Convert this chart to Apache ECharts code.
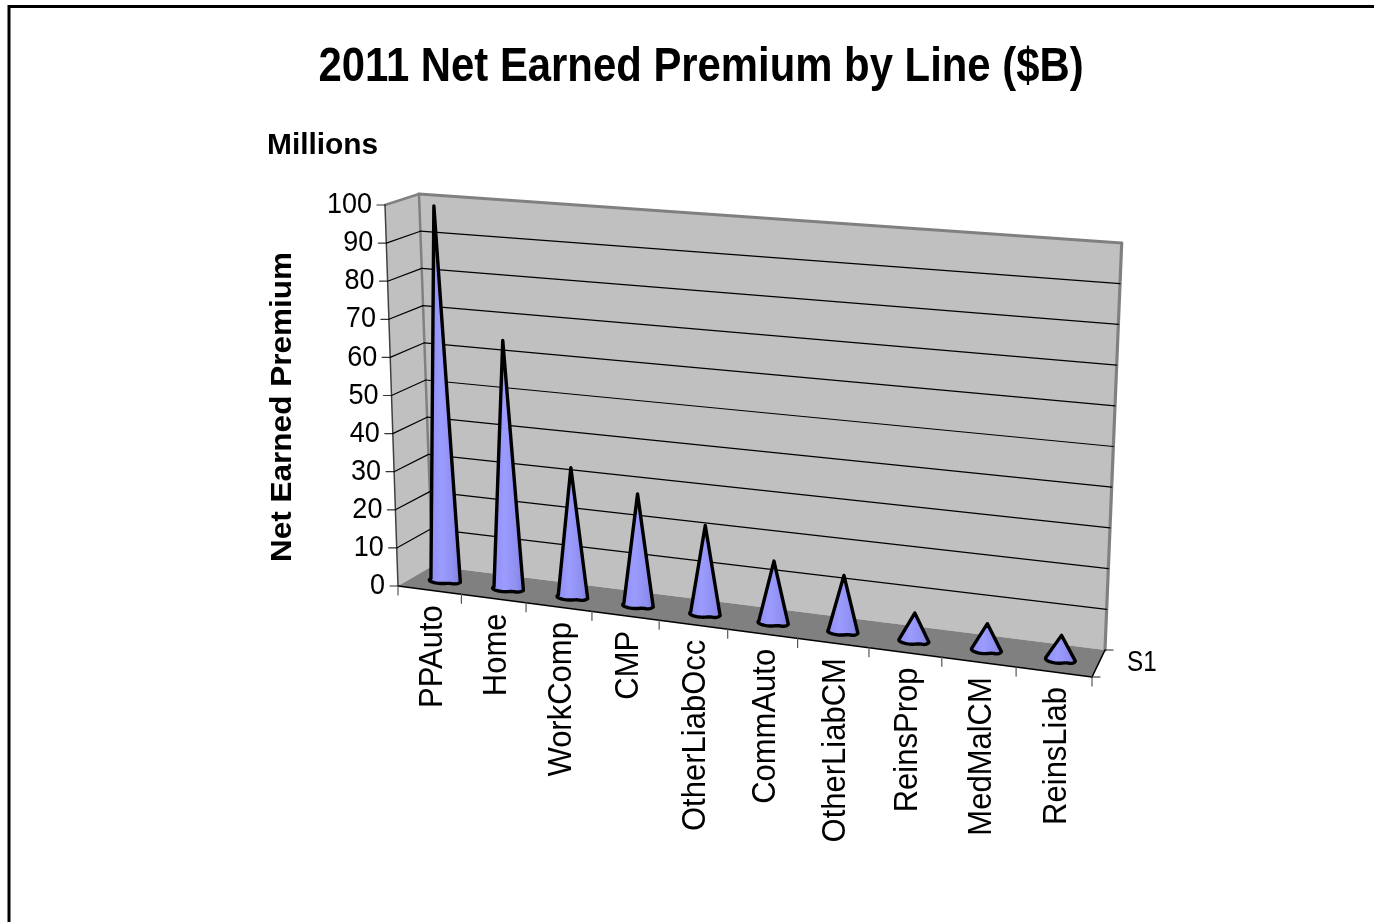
<!DOCTYPE html>
<html><head><meta charset="utf-8">
<style>html,body{margin:0;padding:0;background:#fff}#c{width:1374px;height:922px}</style>
<script src="https://cdn.jsdelivr.net/npm/echarts@6/dist/echarts.min.js"></script>
</head><body><div id="c"></div>
<script>
const categories = ['PPAuto','Home','WorkComp','CMP','OtherLiabOcc','CommAuto','OtherLiabCM','ReinsProp','MedMalCM','ReinsLiab'];
const premium = [99, 65, 33.5, 28.6, 22.5, 15.5, 14, 6.8, 6.4, 5.8];
const valueTicks = [0,10,20,30,40,50,60,70,80,90,100];
const seriesLabel = 'S1';
const FONT = '"Liberation Sans", Arial, sans-serif';

// Page box of the flat value/category plane, and the 3D box it is projected on
const G = {left:398, top:205, width:694, height:381};
const BOX = {
  fl:[398,586], fr:[1092,677], ftl:[385,205], ftr:[1108,258],
  bl:[432.5,566], br:[1105,650], btl:[419,194], btr:[1121.7,243]
};
const WARP = 1.105;
const lerp=(a,b,t)=>[a[0]+(b[0]-a[0])*t,a[1]+(b[1]-a[1])*t];
function proj(u,w,d){
  const f=lerp(lerp(BOX.fl,BOX.fr,u),lerp(BOX.ftl,BOX.ftr,u),w);
  const b=lerp(lerp(BOX.bl,BOX.br,u),lerp(BOX.btl,BOX.btr,u),w);
  return lerp(f,b,d);
}
const warp=u=>u/(u+WARP*(1-u));
const toU=px=>(px-G.left)/G.width;
const toW=py=>(G.top+G.height-py)/G.height;
const line=(a,b,stroke,lw,z)=>({type:'line',z2:z||0,shape:{x1:a[0],y1:a[1],x2:b[0],y2:b[1]},style:{stroke,lineWidth:lw,lineCap:'round'}});
const text=(t,x,y,o)=>({type:'text',x,y,rotation:o.rot||0,scaleX:o.sx||1,scaleY:o.sy||1,z2:5,style:Object.assign({text:t,font:(o.size||27)+'px '+FONT,fill:'#000',verticalAlign:'middle',align:'right'},o.style||{})});

function renderBox(){
  const poly=(pts,fill)=>({type:'polygon',shape:{points:pts},style:{fill,stroke:null}});
  return {type:'group',children:[
    poly([BOX.ftl,BOX.fl,BOX.bl,BOX.btl],'#c0c0c0'),
    poly([BOX.btl,BOX.bl,BOX.br,BOX.btr],'#c0c0c0'),
    poly([BOX.fl,BOX.fr,BOX.br,BOX.bl],'#808080'),
    line(BOX.ftl,BOX.btl,'#808080',2.5),
    line(BOX.btl,BOX.btr,'#808080',3),
    line(BOX.btr,BOX.br,'#808080',3.2),
    line(BOX.btl,BOX.bl,'#808080',2.5),
    line(BOX.ftl,BOX.fl,'#404040',1.5),
    line(BOX.fl,BOX.fr,'#000',1.6),
    line(BOX.fr,BOX.br,'#000',1.6),
    line(BOX.fr,[BOX.fr[0]+8,BOX.fr[1]],'#222',1.2),
    line(BOX.br,[BOX.br[0]+8,BOX.br[1]],'#222',1.2),
    text(seriesLabel,1127,663,{sx:.9,sy:1.12,style:{align:'left'}})
  ]};
}
function renderValueTick(params,api){
  const v=api.value(0), w=toW(api.coord([0,v])[1]);
  const a=proj(0,w,0), b=proj(0,w,1), c=proj(1,w,1);
  const kids=[line([a[0]-8,a[1]],a,'#333',1.2),text(String(v),a[0]-13,a[1],{sy:1.1})];
  if(v>0&&v<100) kids.push(line(a,b,'#000',1.2),line(b,c,'#000',1.2));
  return {type:'group',children:kids};
}
function renderCategory(params,api){
  const i=api.value(0), c=api.coord([i,0])[0], bw=api.size([1,0])[0];
  const edge=warp(toU(c-bw/2)), end=warp(toU(c+bw/2)), mid=(edge+end)/2;
  const p=proj(edge,0,0), m=proj(mid,0,0), kids=[line(p,[p[0],p[1]+9],'#555',1.2)];
  if(i===categories.length-1){const q=proj(end,0,0);kids.push(line(q,[q[0],q[1]+9],'#555',1.2));}
  kids.push(text(categories[i],m[0]+3,m[1]+15,{rot:Math.PI/2,size:31,sy:1.06}));
  return {type:'group',children:kids};
}
function renderCone(params,api){
  const i=api.value(0), v=api.value(1), pt=api.coord([i,v]);
  const u=warp(toU(pt[0])), w=toW(pt[1]);
  const pts=[proj(u,w,0.48)], N=28;
  for(let k=0;k<=N;k++){
    const s=k/N, t=Math.PI*s, sn=Math.pow(Math.sin(t),0.75);
    const notch=1-0.3*Math.exp(-Math.pow((s-0.34)/0.12,2));   // small dent of the faceted base
    pts.push(proj(u+0.0215*Math.cos(t),0,0.48-0.16*sn*notch));
  }
  return {type:'polygon',shape:{points:pts},style:{
    fill:new echarts.graphic.LinearGradient(0,0,1,0,[
      {offset:0,color:'#8c8cf2'},{offset:.4,color:'#9c9cff'},{offset:.75,color:'#8f8ff0'},{offset:1,color:'#7c7cdc'}]),
    stroke:'#000',lineWidth:3.4,lineJoin:'round'}};
}
const chart=echarts.init(document.getElementById('c'));
chart.setOption({
  animation:false,backgroundColor:'#fff',
  grid:{left:G.left,top:G.top,width:G.width,height:G.height},
  xAxis:{type:'category',data:categories,show:false},
  yAxis:{type:'value',min:0,max:100,interval:10,show:false},
  graphic:[
    {type:'rect',silent:true,z:-1,shape:{x:9,y:6.5,width:1500,height:1100},style:{fill:null,stroke:'#000',lineWidth:3}},
    {type:'text',x:701,y:68,scaleX:.93,scaleY:1.06,style:{text:'2011 Net Earned Premium by Line ($B)',font:'bold 45px '+FONT,fill:'#000',align:'center',verticalAlign:'middle'}},
    {type:'text',x:267,y:146,scaleX:1.03,style:{text:'Millions',font:'bold 29px '+FONT,fill:'#000',verticalAlign:'middle'}},
    {type:'text',x:283,y:407,rotation:Math.PI/2,scaleX:1.05,style:{text:'Net Earned Premium',font:'bold 30px '+FONT,fill:'#000',align:'center',verticalAlign:'middle'}}
  ],
  series:[
    {type:'custom',z:1,silent:true,data:[[0]],renderItem:renderBox,encode:{}},
    {type:'custom',z:2,silent:true,data:valueTicks.map(v=>[v]),renderItem:renderValueTick,encode:{y:0}},
    {type:'custom',z:3,silent:true,data:categories.map((c,i)=>[i]),renderItem:renderCategory,encode:{x:0}},
    {type:'custom',z:4,silent:true,data:premium.map((v,i)=>[i,v]),renderItem:renderCone,encode:{x:0,y:1}}
  ]
});
</script></body></html>
